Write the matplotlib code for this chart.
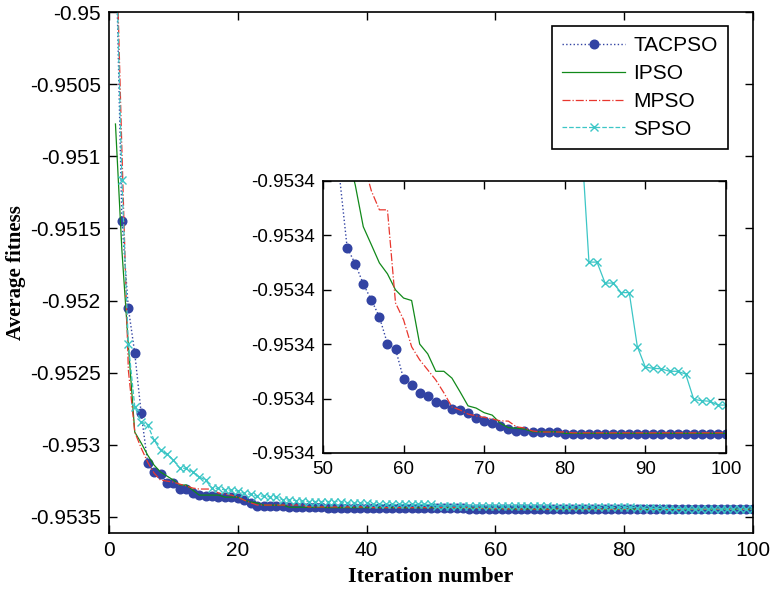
import matplotlib
matplotlib.use("Agg")
import matplotlib.pyplot as plt
from matplotlib.ticker import FuncFormatter, FormatStrFormatter
import numpy as np

# Average best fitness per iteration
ITERATIONS = list(range(1, 101))

TACPSO = [
    -0.9494, -0.951448, -0.95205, -0.952366, -0.952783, -0.953126, -0.953192, -0.953204, -0.953269, -0.953269,
    -0.95331, -0.95331, -0.953338, -0.953348, -0.953357, -0.953357, -0.953362, -0.953362, -0.953366, -0.953373,
    -0.953384, -0.953403, -0.953426, -0.953426, -0.953426, -0.953426, -0.953426, -0.953434, -0.953434, -0.953434,
    -0.953434, -0.953434, -0.953434, -0.953437, -0.953437, -0.953437, -0.953437, -0.953437, -0.953437, -0.953437,
    -0.9534382, -0.9534382, -0.9534382, -0.9534382, -0.9534382, -0.9534382, -0.9534382, -0.9534382, -0.9534382, -0.9534382,
    -0.9534382, -0.9534387, -0.95344146, -0.95344205, -0.95344279, -0.95344338, -0.953444, -0.95344499, -0.95344518, -0.95344628,
    -0.9534465, -0.95344679, -0.9534469, -0.95344713, -0.9534472, -0.95344738, -0.95344742, -0.95344753, -0.95344771, -0.95344783,
    -0.9534479, -0.95344801, -0.95344812, -0.95344818, -0.9534482, -0.95344823, -0.95344823, -0.95344823, -0.95344823, -0.9534483,
    -0.9534483, -0.9534483, -0.9534483, -0.9534483, -0.9534483, -0.9534483, -0.9534483, -0.9534483, -0.9534483, -0.9534483,
    -0.9534483, -0.9534483, -0.9534483, -0.9534483, -0.9534483, -0.9534483, -0.9534483, -0.9534483, -0.9534483, -0.9534483,
]

IPSO = [
    -0.950775, -0.95165, -0.952309, -0.952913, -0.952989, -0.953072, -0.953142, -0.95319, -0.953218, -0.953246,
    -0.95328, -0.95328, -0.953315, -0.95335, -0.95335, -0.95335, -0.95335, -0.953364, -0.953364, -0.953364,
    -0.953385, -0.953398, -0.953405, -0.95342, -0.95342, -0.95342, -0.95342, -0.953434, -0.953434, -0.953434,
    -0.953434, -0.953434, -0.953434, -0.953437, -0.953437, -0.953437, -0.953437, -0.953437, -0.953437, -0.953437,
    -0.953437, -0.953437, -0.953437, -0.953437, -0.953437, -0.9534375, -0.9534375, -0.9534375, -0.9534375, -0.9534375,
    -0.9534375, -0.9534375, -0.953438, -0.95343915, -0.95344069, -0.95344135, -0.95344202, -0.95344242, -0.95344301, -0.95344331,
    -0.9534434, -0.953445, -0.95344536, -0.953446, -0.953446, -0.95344625, -0.95344675, -0.95344727, -0.95344735, -0.95344752,
    -0.95344761, -0.95344791, -0.95344807, -0.95344809, -0.95344812, -0.95344822, -0.95344822, -0.95344822, -0.95344822, -0.95344828,
    -0.95344828, -0.95344828, -0.95344828, -0.95344828, -0.95344828, -0.95344828, -0.95344828, -0.95344828, -0.95344828, -0.95344828,
    -0.95344828, -0.95344828, -0.95344828, -0.95344828, -0.95344828, -0.95344828, -0.95344828, -0.95344828, -0.95344828, -0.95344828,
]

MPSO = [
    -0.9493, -0.950956, -0.952482, -0.952913, -0.953024, -0.953121, -0.953197, -0.953246, -0.953253, -0.95326,
    -0.953274, -0.953287, -0.953301, -0.953308, -0.953308, -0.953308, -0.953336, -0.953343, -0.95335, -0.953364,
    -0.953385, -0.953403, -0.953419, -0.953419, -0.953419, -0.953419, -0.953419, -0.953419, -0.953419, -0.953419,
    -0.953432, -0.953432, -0.953432, -0.953432, -0.953432, -0.953432, -0.953432, -0.953432, -0.953432, -0.953432,
    -0.953437, -0.953437, -0.953437, -0.953437, -0.953437, -0.953437, -0.953437, -0.953437, -0.953437, -0.953437,
    -0.953437, -0.953437, -0.953437, -0.953437, -0.9534383, -0.95343937, -0.95344007, -0.95344007, -0.95344349, -0.95344411,
    -0.9534451, -0.95344558, -0.95344595, -0.95344632, -0.95344679, -0.95344731, -0.95344742, -0.95344757, -0.95344764, -0.95344769,
    -0.95344775, -0.95344782, -0.95344783, -0.95344804, -0.95344808, -0.95344819, -0.95344823, -0.95344823, -0.95344823, -0.95344823,
    -0.95344826, -0.95344826, -0.95344826, -0.95344826, -0.95344826, -0.95344826, -0.95344826, -0.95344826, -0.95344826, -0.95344826,
    -0.95344826, -0.95344826, -0.95344826, -0.95344826, -0.95344826, -0.95344826, -0.95344826, -0.95344826, -0.95344826, -0.95344826,
]

SPSO = [
    -0.9494, -0.951164, -0.952302, -0.952737, -0.952841, -0.952864, -0.952968, -0.953038, -0.953065, -0.953107,
    -0.953164, -0.953164, -0.953188, -0.953223, -0.953246, -0.953303, -0.953303, -0.953315, -0.953315, -0.953322,
    -0.953338, -0.953345, -0.953357, -0.953357, -0.953362, -0.953362, -0.953384, -0.953384, -0.953388, -0.953392,
    -0.953395, -0.953395, -0.953395, -0.953395, -0.953395, -0.953395, -0.953405, -0.953405, -0.953405, -0.953405,
    -0.953415, -0.953415, -0.953415, -0.953415, -0.953415, -0.953415, -0.953415, -0.953415, -0.953415, -0.953415,
    -0.953425, -0.953425, -0.953425, -0.953425, -0.953425, -0.953425, -0.953425, -0.953425, -0.953425, -0.953425,
    -0.953425, -0.953425, -0.953425, -0.953425, -0.953425, -0.953425, -0.953425, -0.953425, -0.953433, -0.953433,
    -0.953433, -0.953433, -0.953433, -0.953433, -0.953433, -0.953436, -0.953436, -0.953436, -0.953436, -0.953436,
    -0.953436, -0.9534372, -0.95344199, -0.95344199, -0.95344276, -0.95344276, -0.95344311, -0.95344311, -0.95344509, -0.95344585,
    -0.95344589, -0.95344591, -0.953446, -0.953446, -0.9534461, -0.95344703, -0.95344708, -0.9534471, -0.95344724, -0.95344724,
]

SERIES = {"TACPSO": TACPSO, "IPSO": IPSO, "MPSO": MPSO, "SPSO": SPSO}

STYLES = {
    "TACPSO": dict(color="#3243A3", ls=":", lw=1.0, marker="o", ms=6.2, mec="#3243A3", mfc="#3243A3"),
    "IPSO":   dict(color="#11891A", ls="-", lw=0.9),
    "MPSO":   dict(color="#E8372E", ls="-.", lw=0.9),
    "SPSO":   dict(color="#3CC6C6", ls="--", lw=0.9, marker="x", ms=6, mew=1.0),
}

SANS = "Liberation Sans"
SERIF = "Liberation Serif"

fig = plt.figure(figsize=(7.71, 5.94), dpi=100)
ax = fig.add_axes([0.1414, 0.1027, 0.8349, 0.8766])

for name, vals in SERIES.items():
    ax.plot(ITERATIONS, vals, label=name, **STYLES[name])

ax.set_xlim(0, 100)
ax.set_ylim(-0.953613, -0.95)
ax.set_xticks(np.arange(0, 101, 20))
ax.set_yticks(np.arange(-0.9535, -0.94999, 0.0005))
ax.yaxis.set_major_formatter(FuncFormatter(lambda v, _: f"{v:g}"))
ax.tick_params(direction="in", length=6, width=1, top=True, right=True,
               labelsize=15, pad=6)
for lbl in ax.get_xticklabels() + ax.get_yticklabels():
    lbl.set_family(SANS)
for sp in ax.spines.values():
    sp.set_linewidth(1.2)

ax.set_xlabel("Iteration number", family=SERIF, fontweight="bold", fontsize=16, labelpad=5)
ax.set_ylabel("Average fitness", family=SERIF, fontweight="bold", fontsize=15, labelpad=3)

leg = ax.legend(loc="upper right", bbox_to_anchor=(0.9616, 0.9737), borderaxespad=0,
                prop={"family": SANS, "size": 15}, handlelength=3.0, labelspacing=0.42,
                fancybox=False, framealpha=1, edgecolor="black", borderpad=0.5,
                handletextpad=0.4)
leg.get_frame().set_linewidth(1.2)

# zoomed inset over the last 50 iterations
ins = fig.add_axes([0.4189, 0.2374, 0.5227, 0.4584])
for name, vals in SERIES.items():
    st = dict(STYLES[name])
    if name == "SPSO":
        st["ls"] = "-"
    ins.plot(ITERATIONS, vals, **st)
ins.set_xlim(50, 100)
ins.set_ylim(-0.953449, -0.953439)
ins.set_xticks(np.arange(50, 101, 10))
ins.set_yticks(np.linspace(-0.953449, -0.953439, 6))
ins.yaxis.set_major_formatter(FormatStrFormatter("%.4f"))
ins.tick_params(direction="in", length=6, width=1, top=True, right=True,
                labelsize=13.5, pad=6)
for lbl in ins.get_xticklabels() + ins.get_yticklabels():
    lbl.set_family(SANS)
for sp in ins.spines.values():
    sp.set_linewidth(1.2)

fig.savefig("out.png", dpi=100)
